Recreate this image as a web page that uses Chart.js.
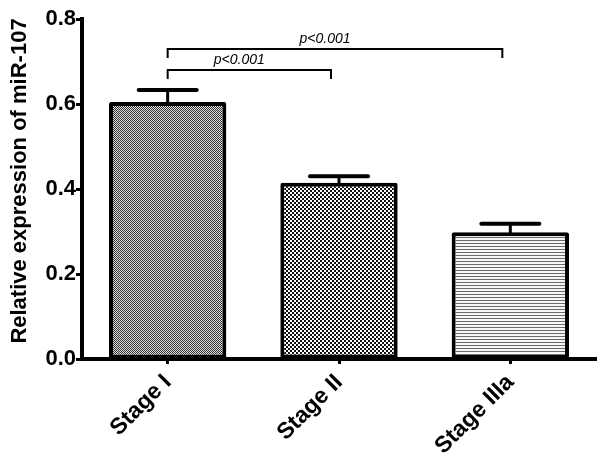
<!DOCTYPE html>
<html>
<head>
<meta charset="utf-8">
<script src="https://cdn.jsdelivr.net/npm/chart.js@4.4.0/dist/chart.umd.min.js"></script>
<style>
  html, body { margin: 0; padding: 0; background: #fff; }
  #wrap { width: 600px; height: 461px; }
</style>
</head>
<body>
<div id="wrap"><canvas id="chart" width="600" height="461"></canvas></div>
<script>
// --- data ---
const stages = ['Stage I', 'Stage II', 'Stage IIIa'];
const meanExpr = [0.605, 0.415, 0.298];
const semExpr = [0.028, 0.015, 0.020];
const yTicks = [0.0, 0.2, 0.4, 0.6, 0.8];

// significance brackets (category index from / to, height in y units)
const compFrom = [0, 0];
const compTo = [1, 2];
const compY = [0.68, 0.73];
const compText = ['p<0.001', 'p<0.001'];

const FONT = '"Liberation Sans", Arial, Helvetica, sans-serif';

// --- fill patterns ---
function makePattern(w, h, draw) {
    const c = document.createElement('canvas');
    c.width = w; c.height = h;
    const g = c.getContext('2d');
    draw(g);
    return g.createPattern(c, 'repeat');
}
const ctxMain = document.getElementById('chart').getContext('2d');

const fineDots = makePattern(2, 2, g => {
    g.fillStyle = '#dedede'; g.fillRect(0, 0, 2, 2);
    g.fillStyle = '#333'; g.fillRect(0, 0, 1, 1); g.fillRect(1, 1, 1, 1);
});
const coarseChecker = makePattern(4, 4, g => {
    g.fillStyle = '#fff'; g.fillRect(0, 0, 4, 4);
    g.fillStyle = '#111'; g.fillRect(0, 0, 2, 2); g.fillRect(2, 2, 2, 2);
});
const hLines = makePattern(3, 3, g => {
    g.fillStyle = '#f6f6f6'; g.fillRect(0, 0, 3, 3);
    g.fillStyle = '#6a6a6a'; g.fillRect(0, 0, 3, 1);
});

// --- error bars, brackets, y title ---
const overlay = {
    id: 'overlay',
    afterDatasetsDraw(chart) {
        const { ctx, chartArea, scales: { x, y } } = chart;
        const meta = chart.getDatasetMeta(0);
        ctx.save();
        ctx.strokeStyle = '#000';
        ctx.lineCap = 'round';
        meta.data.forEach((bar, i) => {
            const top = y.getPixelForValue(meanExpr[i]);
            const tip = y.getPixelForValue(meanExpr[i] + semExpr[i]);
            ctx.lineWidth = 3;
            ctx.beginPath(); ctx.moveTo(bar.x, top); ctx.lineTo(bar.x, tip); ctx.stroke();
            ctx.lineWidth = 4;
            ctx.beginPath(); ctx.moveTo(bar.x - 29, tip); ctx.lineTo(bar.x + 29, tip); ctx.stroke();
        });

        ctx.lineCap = 'butt';
        ctx.lineWidth = 2;
        ctx.fillStyle = '#000';
        ctx.font = 'italic 14px ' + FONT;
        ctx.textAlign = 'center';
        ctx.textBaseline = 'alphabetic';
        compY.forEach((v, k) => {
            const x1 = x.getPixelForValue(compFrom[k]);
            const x2 = x.getPixelForValue(compTo[k]) - 8;
            const yy = Math.round(y.getPixelForValue(v));
            ctx.beginPath();
            ctx.moveTo(x1, yy + 9); ctx.lineTo(x1, yy); ctx.lineTo(x2, yy); ctx.lineTo(x2, yy + 9);
            ctx.stroke();
            ctx.fillText(compText[k], (x1 + x2) / 2 - 10, yy - 6);
        });

        // y axis title
        ctx.translate(20, (chartArea.top + chartArea.bottom) / 2 - 8);
        ctx.rotate(-Math.PI / 2);
        ctx.font = 'bold 22px ' + FONT;
        ctx.textBaseline = 'middle';
        ctx.fillText('Relative expression of miR-107', 0, 0);
        ctx.restore();
    }
};

new Chart(ctxMain, {
    type: 'bar',
    data: {
        labels: stages,
        datasets: [{
            data: meanExpr,
            backgroundColor: [fineDots, coarseChecker, hLines],
            borderColor: '#000',
            borderWidth: 4,
            borderSkipped: false,
            borderRadius: 2,
            categoryPercentage: 1,
            barPercentage: 0.685
        }]
    },
    options: {
        responsive: false,
        animation: false,
        layout: { padding: { top: 19, right: 4, bottom: 0, left: 0 } },
        plugins: { legend: { display: false }, tooltip: { enabled: false } },
        scales: {
            x: {
                afterFit: s => { s.height = 102; },
                grid: { offset: false, drawOnChartArea: false, drawTicks: true, tickLength: 5, tickWidth: 3, tickColor: '#000' },
                border: { display: true, color: '#000', width: 4 },
                ticks: {
                    color: '#000',
                    font: { family: FONT, size: 23, weight: 'bold' },
                    maxRotation: 45, minRotation: 45,
                    padding: 5
                }
            },
            y: {
                min: 0, max: 0.8,
                afterFit: s => { s.width = 82; },
                afterBuildTicks: s => { s.ticks = yTicks.map(v => ({ value: v })); },
                grid: { drawOnChartArea: false, drawTicks: true, tickLength: 6, tickWidth: 3, tickColor: '#000' },
                border: { display: true, color: '#000', width: 4 },
                ticks: {
                    color: '#000',
                    padding: 0,
                    font: { family: FONT, size: 22, weight: 'bold' },
                    callback: v => Number(v).toFixed(1)
                }
            }
        }
    },
    plugins: [overlay]
});
</script>
</body>
</html>
